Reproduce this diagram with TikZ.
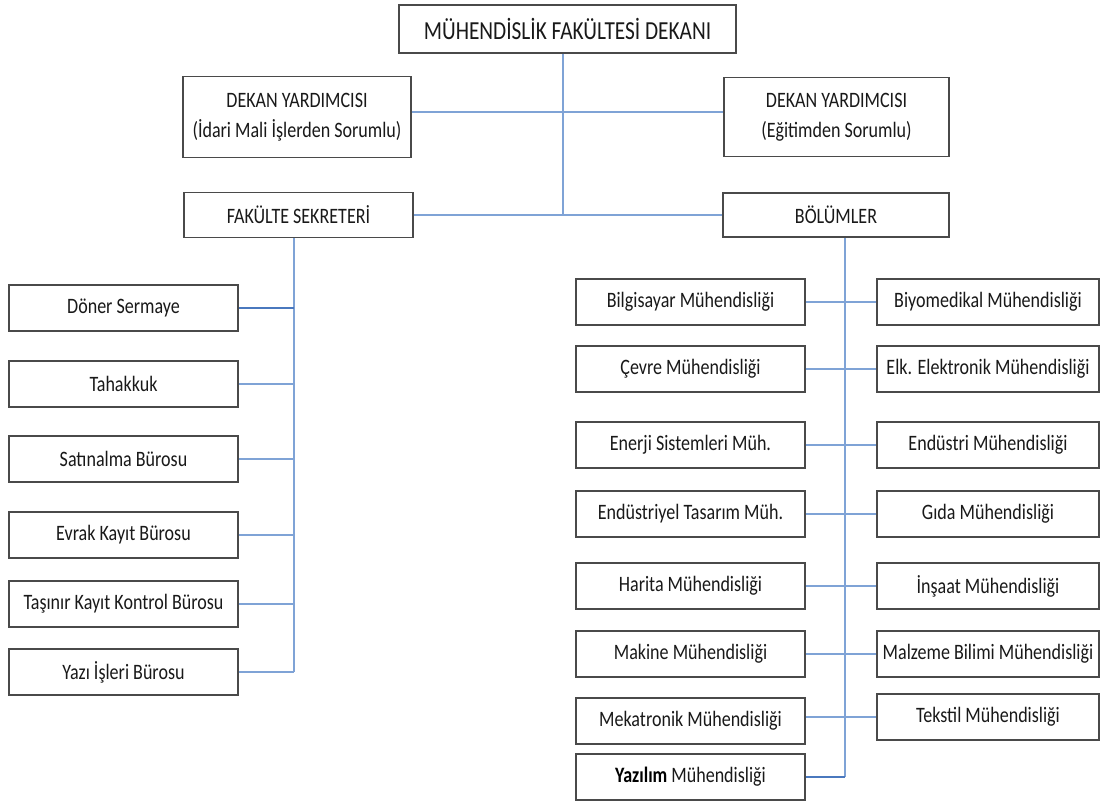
\documentclass[tikz,border=0pt]{standalone}
\usepackage{fontspec}
\setmainfont{Carlito}[FakeStretch=0.82]
\definecolor{linkblue}{HTML}{7FA3D6}
\definecolor{darkblue}{HTML}{4A78BE}
\definecolor{edgegray}{HTML}{4A4A4A}
\tikzset{
  unit/.style={draw=edgegray, line width=1.8pt, fill=white, inner sep=0pt, align=center,
    text=black!90, font=\fontsize{22}{30}\selectfont},
  leftunit/.style={unit, minimum width=229, minimum height=46},
  dept/.style={unit, minimum width=229, minimum height=46},
  deptr/.style={unit, minimum width=222, minimum height=46},
  link/.style={draw=linkblue, line width=2pt},
  boldlink/.style={draw=darkblue, line width=2.6pt},
}
\begin{document}
\begin{tikzpicture}[x=1pt, y=-1pt]
    \useasboundingbox (0,0) rectangle (1103,802);
    \coordinate (tspine) at (563,0);
    \coordinate (lspine) at (294,0);
    \coordinate (rspine) at (845,0);

    % dekan and the two rows below it
    \node[unit, minimum width=337, minimum height=48, font=\fontsize{26}{30}\selectfont] (dekan) at (567.5,29) {MÜHENDİSLİK FAKÜLTESİ DEKANI};
    \node[unit, minimum width=228, minimum height=81] (dyidari) at (297,117) {DEKAN YARDIMCISI\\(İdari Mali İşlerden Sorumlu)};
    \node[unit, minimum width=225, minimum height=79] (dyegitim) at (836.5,117) {DEKAN YARDIMCISI\\(Eğitimden Sorumlu)};
    \node[unit, minimum width=229, minimum height=45] (sekreter) at (298.5,215) {FAKÜLTE SEKRETERİ};
    \node[unit, minimum width=226, minimum height=44] (bolumler) at (836,215) {BÖLÜMLER};

    \draw[link] (dekan.south -| tspine) -- (sekreter.east -| tspine);
    \draw[link] ([yshift=5pt]dyidari.east) -- ([yshift=5pt]dyegitim.west);
    \draw[link] (sekreter) -- (bolumler);

    % offices under the secretary
    \foreach \name/\txt/\yy in {doner/Döner Sermaye/308, tahakkuk/Tahakkuk/384,
        satinalma/Satınalma Bürosu/459, evrak/Evrak Kayıt Bürosu/535,
        tasinir/Taşınır Kayıt Kontrol Bürosu/604, yazi/Yazı İşleri Bürosu/672}
      \node[leftunit] (\name) at (123.5,\yy) {\txt};

    \draw[link] (sekreter.south -| lspine) -- (yazi.east -| lspine);
    \foreach \name in {tahakkuk,satinalma,evrak,tasinir,yazi}
      \draw[link] (\name.east) -- (\name.east -| lspine);
    \draw[boldlink] (doner.east) -- (doner.east -| lspine);

    % departments
    \foreach \lname/\ltxt/\rname/\rtxt/\yy in {
        bilgisayar/Bilgisayar Mühendisliği/biyomedikal/Biyomedikal Mühendisliği/302,
        cevre/Çevre Mühendisliği/elektronik/Elk. Elektronik Mühendisliği/369,
        enerji/Enerji Sistemleri Müh./endustri/Endüstri Mühendisliği/445,
        tasarim/Endüstriyel Tasarım Müh./gida/Gıda Mühendisliği/514,
        harita/Harita Mühendisliği/insaat/İnşaat Mühendisliği/586,
        makine/Makine Mühendisliği/malzeme/Malzeme Bilimi Mühendisliği/654}
      {
      \node[dept] (\lname) at (690.5,\yy) {\ltxt};
      \node[deptr] (\rname) at (988,\yy) {\rtxt};
      \draw[link] (\lname) -- (\rname);
      }
    \node[dept] (mekatronik) at (690.5,721) {Mekatronik Mühendisliği};
    \node[deptr] (tekstil) at (988,717) {Tekstil Mühendisliği};
    \node[dept] (yazilim) at (690.5,777) {{\bfseries\color{black} Yazılım} Mühendisliği};
    \draw[link] (tekstil.west -| mekatronik.east) -- (tekstil.west);

    \draw[link] (bolumler.south -| rspine) -- (yazilim.east -| rspine);
    \draw[boldlink] (yazilim.east -| rspine) -- (yazilim.east);
\end{tikzpicture}
\end{document}
